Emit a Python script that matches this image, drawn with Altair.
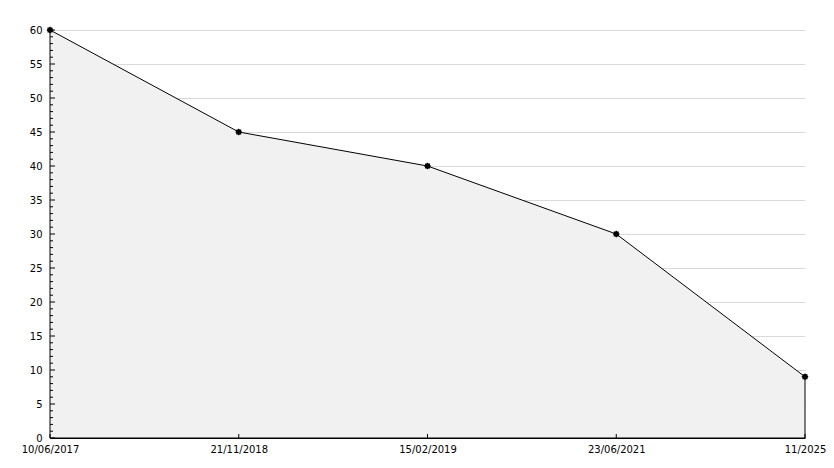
import altair as alt
import pandas as pd

dates = ["10/06/2017", "21/11/2018", "15/02/2019", "23/06/2021", "11/2025"]
values = [60, 45, 40, 30, 9]
major_ticks = list(range(0, 61, 5))
minor_ticks = [v for v in range(0, 61) if v % 5 != 0]

idx = list(range(len(dates)))
df = pd.DataFrame({"i": idx, "date": dates, "value": values})
df_major = pd.DataFrame({"value": major_ticks})
df_minor = pd.DataFrame({"value": minor_ticks})
df_xt = pd.DataFrame({"i": idx})

FONT = "DejaVu Sans"
label_expr = "[" + ",".join("'%s'" % d for d in dates) + "][datum.value]"

xscale = alt.Scale(domain=[0, len(dates) - 1], nice=False, zero=False)
yscale = alt.Scale(domain=[0, 60], nice=False, zero=True)

x_axis = alt.Axis(title=None, values=idx, labelExpr=label_expr, labelAngle=0,
                  ticks=False, grid=False, domainColor="black",
                  labelFont=FONT, labelFontSize=10, labelColor="black",
                  labelPadding=6, labelOverlap=False, labelFlush=False)
y_axis = alt.Axis(title=None, values=major_ticks, ticks=False, grid=True,
                  gridColor="#d9d9d9", gridWidth=1, domainColor="black",
                  labelFont=FONT, labelFontSize=10, labelColor="black",
                  labelPadding=8, labelOverlap=False, labelFlush=False)

X = lambda: alt.X("i:Q", scale=xscale, axis=x_axis)
Y = lambda f="value:Q": alt.Y(f, scale=yscale, axis=y_axis)

area = alt.Chart(df).mark_area(color="#f1f1f1", stroke="black", strokeWidth=1,
                               opacity=1).encode(x=X(), y=Y())

star = "M0,-1L0.29,-0.71L0.71,-0.71L0.71,-0.29L1,0L0.71,0.29L0.71,0.71L0.29,0.71L0,1L-0.29,0.71L-0.71,0.71L-0.71,0.29L-1,0L-0.71,-0.29L-0.71,-0.71L-0.29,-0.71Z"
pts = alt.Chart(df).mark_point(shape=star, filled=True, color="black", size=50,
                               opacity=1).encode(x=X(), y=Y())

major = alt.Chart(df_major).mark_rule(color="black", strokeWidth=1).encode(
    y=Y(), x=alt.value(0), x2=alt.value(5))
minor = alt.Chart(df_minor).mark_rule(color="black", strokeWidth=1).encode(
    y=Y(), x=alt.value(0), x2=alt.value(3))
xt = alt.Chart(df_xt).mark_rule(color="black", strokeWidth=1).encode(
    x=X(), y=alt.value(408), y2=alt.value(404))

chart = alt.layer(area, major, minor, xt, pts).properties(
    width=755, height=408,
    background="white",
    autosize=alt.AutoSizeParams(type="none"),
    padding={"left": 42, "top": 22, "right": 21, "bottom": 22},
).configure_view(strokeWidth=0)

chart.save("out.html", embed_options={"renderer": "svg", "actions": False})
